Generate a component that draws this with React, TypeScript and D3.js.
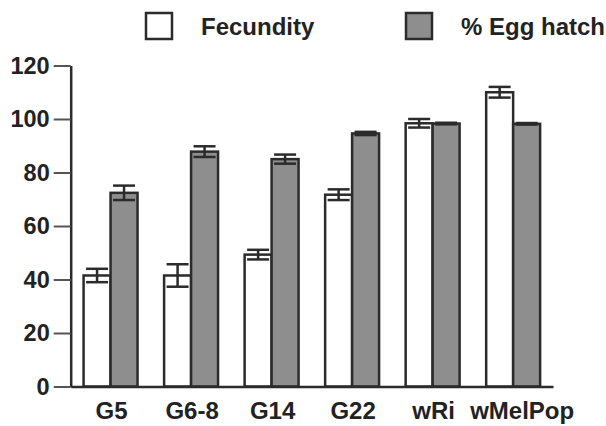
import React, { useEffect, useRef } from "react";
import * as d3 from "d3";

const groups = ["G5", "G6-8", "G14", "G22", "wRi", "wMelPop"];
const fecundity = [41.5, 41.5, 49.3, 71.7, 98.4, 110];
const fecundityErr = [2.5, 4.2, 1.8, 2.0, 1.6, 2.0];
const eggHatch = [72.4, 87.8, 85.0, 94.6, 98.3, 98.2];
const eggHatchErr = [2.7, 2.0, 1.7, 0.6, 0.3, 0.3];
const yTicks = [0, 20, 40, 60, 80, 100, 120];
const seriesNames = ["Fecundity", "% Egg hatch"];

const ink = "#2b2b2b";
const grey = "#8e8e8e";
const font = "'Liberation Sans', Arial, Helvetica, sans-serif";

export default function App() {
  const ref = useRef<SVGSVGElement | null>(null);

  useEffect(() => {
    const svg = d3.select(ref.current);
    svg.selectAll("*").remove();

    const x = d3.scaleBand().domain(groups).range([70.7, 553]).paddingInner(0.33).paddingOuter(0.16);
    const sub = d3.scaleBand().domain(["f", "h"]).range([0, x.bandwidth()]);
    const y = d3.scaleLinear().domain([0, 120]).range([386.5, 65.5]);

    const rows = groups.map((g, i) => [
      { g, k: "f", v: fecundity[i], e: fecundityErr[i], fill: "#ffffff" },
      { g, k: "h", v: eggHatch[i], e: eggHatchErr[i], fill: grey },
    ]).flat();

    const bars = svg.append("g");
    bars.selectAll("rect")
      .data(rows)
      .join("rect")
      .attr("x", d => (x(d.g) as number) + (sub(d.k) as number))
      .attr("y", d => y(d.v))
      .attr("width", sub.bandwidth())
      .attr("height", d => y(0) - y(d.v))
      .attr("fill", d => d.fill)
      .attr("stroke", ink)
      .attr("stroke-width", 2.5);

    // error bars
    const err = svg.append("g").attr("stroke", ink).attr("stroke-width", 2.5);
    rows.forEach(d => {
      const cx = (x(d.g) as number) + (sub(d.k) as number) + sub.bandwidth() / 2;
      const top = y(d.v + d.e), bot = y(d.v - d.e);
      err.append("line").attr("x1", cx).attr("x2", cx).attr("y1", top).attr("y2", bot);
      err.append("line").attr("x1", cx - 11).attr("x2", cx + 11).attr("y1", top).attr("y2", top);
      err.append("line").attr("x1", cx - 11).attr("x2", cx + 11).attr("y1", bot).attr("y2", bot);
    });

    // y axis
    const yAxis = svg.append("g").attr("transform", "translate(70.7,0)")
      .call(d3.axisLeft(y).tickValues(yTicks).tickSize(17).tickPadding(4).tickSizeOuter(0));
    yAxis.select(".domain").attr("stroke", ink).attr("stroke-width", 2.5);
    yAxis.selectAll(".tick line").attr("stroke", "#555").attr("stroke-width", 2);
    yAxis.selectAll(".tick text")
      .attr("fill", "#222").attr("font-family", font).attr("font-weight", "bold").attr("font-size", 23.5);

    // x axis
    const xAxis = svg.append("g").attr("transform", `translate(0,${y(0)})`)
      .call(d3.axisBottom(x).tickSize(0).tickPadding(15).tickSizeOuter(0));
    xAxis.select(".domain").attr("stroke", ink).attr("stroke-width", 2.5);
    xAxis.selectAll<SVGTextElement, string>(".tick text")
      .attr("fill", "#222").attr("font-family", font).attr("font-weight", "bold").attr("font-size", 24)
      .attr("dx", d => (d === "wMelPop" ? 9 : 1)); // last label sits a bit right in the original

    // legend
    const legendX = [145, 405];
    const legend = svg.append("g");
    seriesNames.forEach((name, i) => {
      legend.append("rect")
        .attr("x", legendX[i] + 1).attr("y", 13).attr("width", 26).attr("height", 26)
        .attr("fill", i === 0 ? "#ffffff" : grey).attr("stroke", ink).attr("stroke-width", 2.5);
      legend.append("text")
        .attr("x", legendX[i] + 56).attr("y", 35)
        .attr("fill", "#222").attr("font-family", font).attr("font-weight", "bold").attr("font-size", 24)
        .text(name);
    });
  }, []);

  return (
    <svg
      ref={ref}
      width={606}
      height={426}
      style={{ position: "absolute", left: 0, top: 0, display: "block", background: "#fff" }}
    />
  );
}
